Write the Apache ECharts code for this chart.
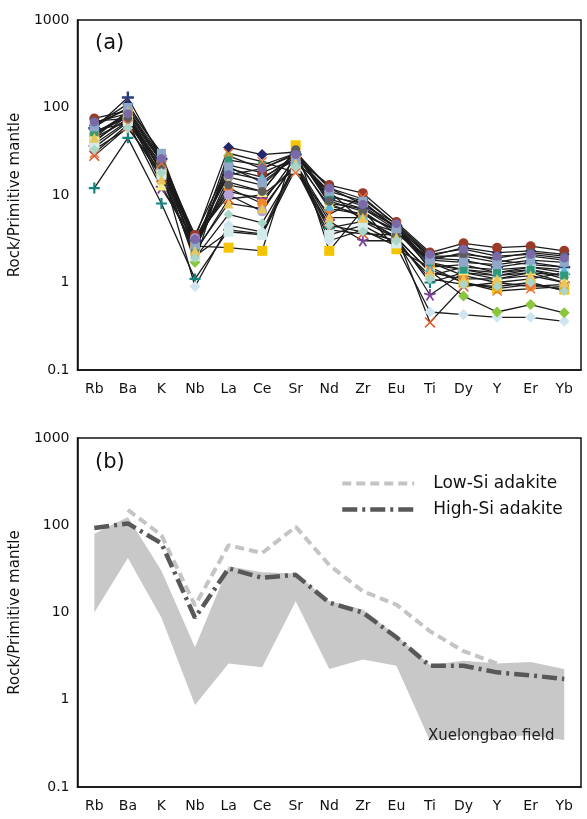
<!DOCTYPE html>
<html>
<head>
<meta charset="utf-8">
<script src="https://cdn.jsdelivr.net/npm/echarts@6/dist/echarts.min.js"></script>
<style>
  html, body { margin: 0; padding: 0; background: #fff; }
  #chart { width: 587px; height: 819px; }
</style>
</head>
<body>
<div id="chart"></div>
<script>
const elements = ['Rb', 'Ba', 'K', 'Nb', 'La', 'Ce', 'Sr', 'Nd', 'Zr', 'Eu', 'Ti', 'Dy', 'Y', 'Er', 'Yb'];

// panel (a): individual samples, normalised to primitive mantle
const s01 = [12, 45, 8, 1.1, 4.0, 3.6, 22, 4.2, 5.0, 3.2, 1.0, 1.3, 1.1, 1.3, 1.0];
const s02 = [45, 72, 20, 0.9, 4.5, 3.8, 24, 3.0, 4.0, 2.6, 0.46, 0.43, 0.40, 0.40, 0.36];
const s03 = [50, 78, 22, 1.7, 28, 20, 30, 8.0, 5.5, 3.2, 1.35, 0.70, 0.46, 0.56, 0.45];
const s04 = [28, 60, 16, 2.2, 9.0, 10, 20, 4.0, 3.6, 3.5, 0.35, 0.9, 1.0, 1.1, 1.3];
const s05 = [35, 68, 12, 3.0, 11, 9.0, 22, 5.0, 3.0, 3.0, 0.72, 1.3, 1.2, 1.3, 1.2];
const s06 = [62, 110, 28, 3.2, 35, 29, 31, 12, 9.0, 4.6, 2.0, 2.5, 2.2, 2.3, 2.1];
const s07 = [75, 92, 25, 3.5, 22, 18, 26, 13, 10.5, 4.9, 2.2, 2.8, 2.5, 2.6, 2.3];
const s08 = [40, 82, 18, 2.6, 2.5, 2.3, 37, 2.3, 6.8, 2.4, 1.5, 1.0, 0.85, 0.95, 0.83];
const s09 = [48, 88, 24, 2.8, 12, 8.0, 27, 7.0, 6.0, 4.0, 1.7, 1.2, 1.0, 0.9, 0.95];
const s10 = [55, 66, 21, 2.4, 16, 13, 28, 10, 7.5, 4.2, 2.0, 2.0, 1.7, 2.0, 1.8];
const s11 = [42, 75, 19, 3.2, 10, 6.5, 24, 11, 5.0, 3.8, 1.8, 2.2, 1.8, 1.6, 1.5];
const s12 = [38, 70, 17, 2.0, 3.8, 3.5, 20, 3.5, 4.5, 2.8, 1.2, 1.5, 1.4, 1.5, 1.3];
const s13 = [50, 85, 13, 2.5, 14, 11, 32, 8.0, 7.0, 4.0, 1.6, 1.4, 1.2, 1.4, 1.1];
const s14 = [58, 130, 26, 3.0, 18, 15, 29, 9.0, 7.0, 4.4, 1.9, 1.8, 1.5, 1.7, 1.5];
const s15 = [65, 95, 27, 2.6, 20, 16, 25, 7.5, 6.0, 3.9, 1.5, 1.6, 1.3, 1.5, 1.4];
const s16 = [52, 80, 24, 2.2, 25, 22, 30, 9.5, 8.0, 4.3, 1.7, 1.4, 1.3, 1.4, 1.2];
const s17 = [70, 75, 22, 2.9, 13, 11, 33, 8.5, 6.5, 3.6, 1.9, 2.1, 1.9, 2.2, 2.0];
const s18 = [30, 64, 23, 2.4, 30, 24, 18, 6.0, 9.5, 4.5, 1.4, 1.0, 0.8, 0.85, 0.9];
const s19 = [60, 100, 30, 2.7, 21, 14, 27, 11, 8.5, 4.1, 1.8, 1.7, 1.6, 1.8, 1.7];
const s20 = [45, 90, 15, 2.3, 8.0, 7.0, 23, 5.5, 5.5, 3.3, 1.3, 1.1, 1.1, 1.2, 1.0];
const s21 = [68, 85, 26, 3.1, 17, 20, 29, 12, 7.8, 4.7, 2.1, 2.4, 2.0, 2.1, 1.9];
const s22 = [33, 58, 18, 1.9, 6.0, 4.8, 21, 4.5, 3.8, 3.0, 1.1, 0.95, 0.9, 1.0, 0.8];

// panel (b): field envelope and reference adakite patterns
const fieldUpper = [80, 124, 30, 4.0, 34, 29, 28, 13.5, 10.8, 5.4, 2.5, 2.8, 2.6, 2.7, 2.25];
const fieldLower = [10, 42, 8.7, 0.87, 2.6, 2.35, 13.5, 2.25, 2.9, 2.45, 0.34, 0.39, 0.38, 0.39, 0.345];
const lowSi = [null, 150, 77, 12, 59, 48, 96, 35, 17.5, 12.3, 6.1, 3.6, 2.6, null, null];
const highSi = [93, 105, 62, 8.7, 32, 25, 27, 13, 10, 5.2, 2.45, 2.45, 2.06, 1.9, 1.73];

const plusPath = 'path://M4,0H6V4H10V6H6V10H4V6H0V4H4Z';
const crossPath = 'path://M1,0L5,4L9,0L10,1L6,5L10,9L9,10L5,6L1,10L0,9L4,5L0,1Z';
const starPath = 'path://M4.3,0H5.7V3.8L9.3,2.6L9.7,3.9L6.1,5.1L8.3,8.2L7.2,9L5,5.9L2.8,9L1.7,8.2L3.9,5.1L0.3,3.9L0.7,2.6L4.3,3.8Z';

const samples = [
  { data: s01, symbol: plusPath, color: '#17837f', size: 11 },
  { data: s02, symbol: 'diamond', color: '#cfe6f0', size: 11 },
  { data: s03, symbol: 'diamond', color: '#8cc63f', size: 11 },
  { data: s04, symbol: crossPath, color: '#e0582a', size: 11 },
  { data: s05, symbol: starPath, color: '#7b3f98', size: 12 },
  { data: s06, symbol: 'diamond', color: '#23286b', size: 11 },
  { data: s07, symbol: 'circle', color: '#9a3b2a', size: 10 },
  { data: s08, symbol: 'rect', color: '#f5c400', size: 10 },
  { data: s09, symbol: 'circle', color: '#f0892c', size: 10 },
  { data: s10, symbol: 'circle', color: '#9c9c9c', size: 10 },
  { data: s11, symbol: 'circle', color: '#b6a0d8', size: 10 },
  { data: s12, symbol: 'rect', color: '#d3ece9', size: 10 },
  { data: s13, symbol: 'triangle', color: '#f6ee8c', size: 11 },
  { data: s14, symbol: plusPath, color: '#2b3c7a', size: 12 },
  { data: s15, symbol: 'triangle', color: '#5bb8dc', size: 10 },
  { data: s16, symbol: 'rect', color: '#2e9a7a', size: 8 },
  { data: s17, symbol: 'circle', color: '#5d5d5d', size: 9 },
  { data: s18, symbol: crossPath, color: '#e8703a', size: 10 },
  { data: s19, symbol: 'rect', color: '#8fa8c8', size: 9 },
  { data: s20, symbol: 'triangle', color: '#e8c75a', size: 10 },
  { data: s21, symbol: 'circle', color: '#7a6aa8', size: 9 },
  { data: s22, symbol: 'diamond', color: '#a9d6c8', size: 10 }
];

const font = 'DejaVu Sans, Verdana, sans-serif';
const grids = [
  { left: 74, right: 6, top: 20, height: 350 },
  { left: 74, right: 6, top: 438, height: 349 }
];

function xAxisFor(i) {
  return {
    type: 'category', gridIndex: i, data: elements, boundaryGap: true,
    axisLine: { lineStyle: { color: '#111', width: 1.5 } },
    axisTick: { inside: true, length: 5, lineStyle: { color: '#111', width: 1.2 } },
    axisLabel: { color: '#111', fontFamily: font, fontSize: 14, margin: 12 }
  };
}
function yAxisFor(i) {
  return {
    type: 'log', logBase: 10, gridIndex: i, min: 0.1, max: 1000,
    name: 'Rock/Primitive mantle', nameLocation: 'middle', nameGap: 48,
    nameTextStyle: { color: '#111', fontFamily: font, fontSize: 15 },
    axisLine: { show: true, lineStyle: { color: '#111', width: 1.5 } },
    axisTick: { inside: true, length: 5, lineStyle: { color: '#111', width: 1.2 } },
    axisLabel: { color: '#111', fontFamily: font, fontSize: 14, margin: 8,
      formatter: v => String(+v.toPrecision(3)) },
    splitLine: { show: false }
  };
}

const series = samples.map((s, k) => ({
  type: 'line', name: 'sample' + (k + 1), xAxisIndex: 0, yAxisIndex: 0,
  data: s.data, symbol: s.symbol, symbolSize: s.size, showSymbol: true,
  lineStyle: { color: '#1c1c1c', width: 1.3 },
  itemStyle: { color: s.color, borderWidth: 0 },
  z: 3, silent: true
}));

series.push({
  type: 'custom', name: 'Xuelongbao field', xAxisIndex: 1, yAxisIndex: 1,
  data: [0], silent: true, z: 1,
  renderItem(params, api) {
    const top = fieldUpper.map((v, i) => api.coord([i, v]));
    const bot = fieldLower.map((v, i) => api.coord([i, v])).reverse();
    return { type: 'polygon', shape: { points: top.concat(bot) }, style: { fill: '#c8c8c8' } };
  }
});
series.push({
  type: 'line', name: 'Low-Si adakite', xAxisIndex: 1, yAxisIndex: 1,
  data: lowSi, symbol: 'none', connectNulls: false,
  lineStyle: { color: '#c4c4c4', width: 4, type: [9, 5] },
  itemStyle: { color: '#c4c4c4' }, z: 3, silent: true
});
series.push({
  type: 'line', name: 'High-Si adakite', xAxisIndex: 1, yAxisIndex: 1,
  data: highSi, symbol: 'none',
  lineStyle: { color: '#585858', width: 4.5, type: [15, 5, 3, 5] },
  itemStyle: { color: '#585858' }, z: 4, silent: true
});

const chart = echarts.init(document.getElementById('chart'), null, { renderer: 'canvas' });
chart.setOption({
  animation: false,
  backgroundColor: '#fff',
  grid: grids.map(g => Object.assign({ show: true, borderColor: '#111', borderWidth: 1.5, backgroundColor: 'transparent' }, g)),
  xAxis: [xAxisFor(0), xAxisFor(1)],
  yAxis: [yAxisFor(0), yAxisFor(1)],
  legend: {
    data: [
      { name: 'Low-Si adakite', lineStyle: { width: 4, color: '#c4c4c4', type: [9, 5] } },
      { name: 'High-Si adakite', lineStyle: { width: 4.5, color: '#585858', type: [15, 5, 3, 5] } }
    ],
    orient: 'vertical', left: 335, top: 470, itemGap: 9,
    itemWidth: 72, itemHeight: 18,
    itemStyle: { color: 'transparent', borderWidth: 0 },
    textStyle: { color: '#111', fontFamily: font, fontSize: 17, padding: [0, 0, 0, 14] },
    selectedMode: false
  },
  graphic: [
    { type: 'text', left: 95, top: 33, z: 20, style: { text: '(a)', font: '21px ' + font, fill: '#111' } },
    { type: 'text', left: 95, top: 452, z: 20, style: { text: '(b)', font: '21px ' + font, fill: '#111' } },
    { type: 'text', left: 428, top: 729, z: 20, style: { text: 'Xuelongbao field', font: '15px ' + font, fill: '#222' } }
  ],
  series
});
</script>
</body>
</html>
